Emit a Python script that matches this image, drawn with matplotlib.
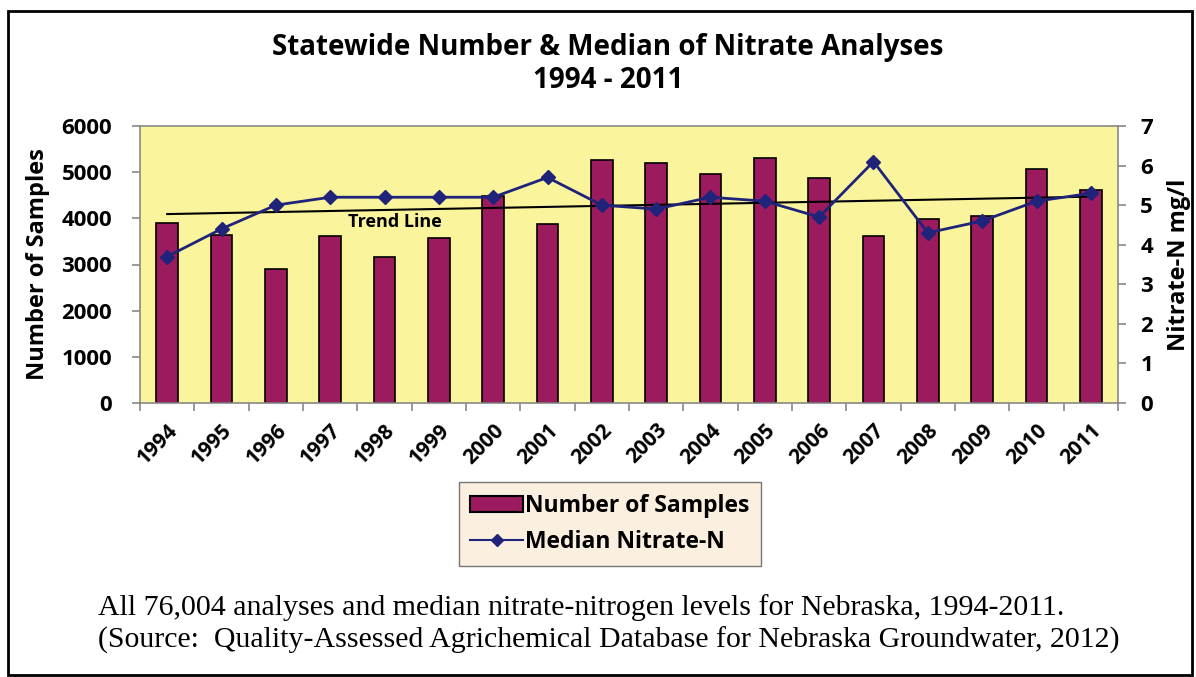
import numpy as np
import matplotlib
matplotlib.use("Agg")
import matplotlib.pyplot as plt
from matplotlib.patches import Rectangle
from matplotlib.lines import Line2D
from matplotlib.patches import Patch

years = ["1994", "1995", "1996", "1997", "1998", "1999", "2000", "2001", "2002",
         "2003", "2004", "2005", "2006", "2007", "2008", "2009", "2010", "2011"]
samples = [3890, 3640, 2900, 3610, 3160, 3580, 4480, 3880, 5260,
           5200, 4970, 5300, 4870, 3620, 3990, 4060, 5060, 4620]
median_n = [3.7, 4.4, 5.0, 5.2, 5.2, 5.2, 5.2, 5.7, 5.0,
            4.9, 5.2, 5.1, 4.7, 6.1, 4.3, 4.6, 5.1, 5.3]
left_ticks = [0, 1000, 2000, 3000, 4000, 5000, 6000]
right_ticks = [0, 1, 2, 3, 4, 5, 6, 7]

W, H = 1196, 677
fig = plt.figure(figsize=(W / 100, H / 100), dpi=100)
fig.patch.set_facecolor("white")

SANS = ["Open Sans", "DejaVu Sans"]
SERIF = ["Liberation Serif", "DejaVu Serif"]
BAR_C = "#9C1A5E"
LINE_C = "#1F237A"
TICK_C = "#888888"

# outer border
fig.add_artist(Rectangle((8 / W, 2 / H), (1192 - 8) / W, (666 - 2) / H,
                         transform=fig.transFigure, fill=False,
                         edgecolor="black", linewidth=2))

x0, x1, yt, yb = 140, 1118, 126, 403
ax = fig.add_axes([x0 / W, 1 - yb / H, (x1 - x0) / W, (yb - yt) / H])
ax.set_facecolor("#FAF59C")
x = np.arange(len(years))
ax.bar(x, samples, width=0.4, color=BAR_C, edgecolor="black", linewidth=1.2, zorder=2)
ax.set_xlim(-0.5, len(years) - 0.5)
ax.set_ylim(0, 6000)
ax.set_yticks(left_ticks)
ax.set_yticklabels([str(t) for t in left_ticks], fontsize=16, fontweight="bold", family=SANS)
ax.set_xticks(x)
ax.set_xticklabels(years, rotation=45, fontsize=15, fontweight="bold", family=SANS,
                   ha="right", va="top", rotation_mode="anchor")
ax.tick_params(axis="x", length=0, pad=12)
ax.set_xticks(np.arange(-0.5, len(years) + 0.5, 1), minor=True)
ax.tick_params(axis="x", which="minor", length=6, color=TICK_C, width=1.2)
ax.tick_params(axis="y", length=6, color=TICK_C, width=1.2, pad=14)
for s in ["top", "right"]:
    ax.spines[s].set_visible(False)
ax.spines["left"].set_color(TICK_C)
ax.spines["bottom"].set_color(TICK_C)
ax.spines["left"].set_linewidth(1.2)
ax.spines["bottom"].set_linewidth(1.2)
ax.set_ylabel("Number of Samples", fontsize=17, fontweight="bold", family=SANS, labelpad=8)

ax2 = ax.twinx()
ax2.set_ylim(0, 7)
ax2.set_yticks(right_ticks)
ax2.set_yticklabels([str(t) for t in right_ticks], fontsize=16, fontweight="bold", family=SANS)
ax2.tick_params(axis="y", length=6, color=TICK_C, width=1.2, pad=10)
for s in ["left", "bottom"]:
    ax2.spines[s].set_visible(False)
ax2.spines["right"].set_color(TICK_C)
ax2.spines["right"].set_linewidth(1.2)
ax2.spines["top"].set_color(TICK_C)
ax2.spines["top"].set_linewidth(1.2)
ax2.plot(x, median_n, color=LINE_C, linewidth=2, marker="D", markersize=7,
         markerfacecolor=LINE_C, markeredgecolor=LINE_C, zorder=4)
coef = np.polyfit(x, median_n, 1)
ax2.plot([x[0], x[-1]], np.polyval(coef, [x[0], x[-1]]), color="black", linewidth=1.5, zorder=3)
ax2.text(4.2, 4.57, "Trend Line", fontsize=13, fontweight="bold", family=SANS,
         ha="center", va="center")
ax2.set_ylabel("Nitrate-N mg/l", fontsize=17, fontweight="bold", family=SANS,
               rotation=90, labelpad=10)

fig.text(608 / W, 1 - 47 / H, "Statewide Number & Median of Nitrate Analyses",
         fontsize=20, fontweight="bold", family=SANS, ha="center", va="center")
fig.text(608 / W, 1 - 80 / H, "1994 - 2011",
         fontsize=20, fontweight="bold", family=SANS, ha="center", va="center")

handles = [Patch(facecolor=BAR_C, edgecolor="black", linewidth=1.5),
           Line2D([0], [0], color=LINE_C, linewidth=1.5, marker="D", markersize=6)]
leg = fig.legend(handles, ["Number of Samples", "Median Nitrate-N"],
                 loc="center", bbox_to_anchor=(610 / W, 1 - 524 / H),
                 prop={"family": SANS, "weight": "bold", "size": 16.5},
                 frameon=True, fancybox=False, handlelength=2.3, handletextpad=0.1,
                 borderpad=0.5, labelspacing=0.55)
leg.get_frame().set_facecolor("#FBEBD7")
leg.get_frame().set_edgecolor("#555555")
leg.get_frame().set_linewidth(1)

fig.text(98 / W, 1 - 608 / H,
         "All 76,004 analyses and median nitrate-nitrogen levels for Nebraska, 1994-2011.",
         fontsize=21.5, family=SERIF, ha="left", va="center")
fig.text(98 / W, 1 - 640 / H,
         "(Source:  Quality-Assessed Agrichemical Database for Nebraska Groundwater, 2012)",
         fontsize=21.5, family=SERIF, ha="left", va="center")

fig.savefig("out.png", dpi=100)
